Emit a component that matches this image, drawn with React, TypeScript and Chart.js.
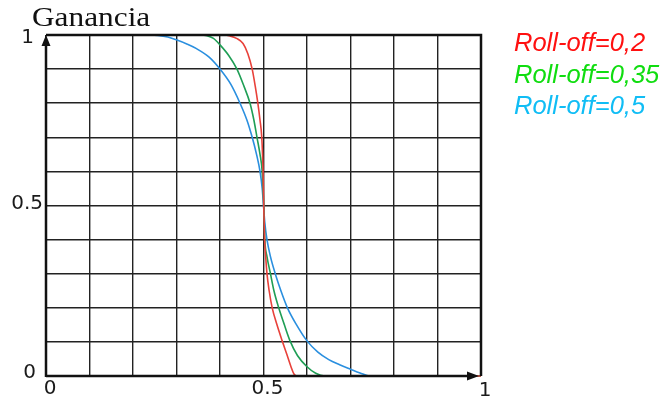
import React, { useEffect, useRef } from "react";
import { Chart, registerables } from "chart.js";

Chart.register(...registerables);

// ---- data ----
const seriesLabels = ["Roll-off=0,2", "Roll-off=0,35", "Roll-off=0,5"];

const redX = [0, 0.41, 0.423, 0.438, 0.453, 0.464, 0.474, 0.481, 0.487, 0.492, 0.496, 0.499, 0.5005, 0.5025, 0.505, 0.508, 0.513, 0.52, 0.531, 0.543, 0.554, 0.563, 0.57, 0.577, 1];
const redY = [1, 1, 0.997, 0.99, 0.975, 0.945, 0.9, 0.85, 0.8, 0.75, 0.7, 0.6, 0.5, 0.4, 0.35, 0.3, 0.25, 0.2, 0.15, 0.103, 0.062, 0.028, 0.006, 0, 0];

const greenX = [0, 0.355, 0.37, 0.385, 0.4, 0.42, 0.439, 0.455, 0.469, 0.478, 0.485, 0.492, 0.497, 0.499, 0.5005, 0.503, 0.508, 0.516, 0.524, 0.535, 0.548, 0.561, 0.578, 0.6, 0.62, 0.641, 1];
const greenY = [1, 1, 0.998, 0.99, 0.971, 0.94, 0.9, 0.85, 0.8, 0.75, 0.7, 0.65, 0.6, 0.55, 0.5, 0.4, 0.35, 0.3, 0.25, 0.2, 0.15, 0.103, 0.06, 0.027, 0.008, 0, 0];

const blueX = [0, 0.24, 0.257, 0.28, 0.301, 0.325, 0.346, 0.375, 0.4, 0.425, 0.446, 0.462, 0.474, 0.484, 0.492, 0.497, 0.5, 0.503, 0.508, 0.516, 0.527, 0.54, 0.555, 0.576, 0.6, 0.625, 0.65, 0.675, 0.7, 0.722, 0.745, 1];
const blueY = [1, 1, 0.999, 0.994, 0.985, 0.973, 0.96, 0.935, 0.9, 0.855, 0.8, 0.75, 0.7, 0.65, 0.6, 0.55, 0.5, 0.45, 0.4, 0.35, 0.3, 0.25, 0.2, 0.15, 0.103, 0.07, 0.048, 0.033, 0.02, 0.009, 0, 0];

const xTickValues = [0, 0.5, 1];
const xTickLabels = ["0", "0.5", "1"];
const yTickValues = [1, 0.5, 0];
const yTickLabels = ["1", "0.5", "0"];
const yAxisTitle = "Ganancia";

// ---- styles ----
const lineColors = ["#e8413a", "#1f9e55", "#2a8fdf"];
const legendColors = ["#ff1010", "#10dd10", "#10bdf5"];

const toPoints = (xs: number[], ys: number[]) => xs.map((x, i) => ({ x, y: ys[i] }));

const decorPlugin = {
  id: "decor",
  afterDraw(chart: any) {
    const { ctx, chartArea: a, scales } = chart;
    const xs = scales.x;
    const ys = scales.y;
    ctx.save();
    ctx.strokeStyle = "#111";
    ctx.fillStyle = "#111";
    ctx.lineWidth = 2.5;
    // top + right frame
    ctx.beginPath();
    ctx.moveTo(a.left, a.top);
    ctx.lineTo(a.right, a.top);
    ctx.lineTo(a.right, a.bottom);
    ctx.stroke();
    // y axis
    ctx.beginPath();
    ctx.moveTo(a.left, a.bottom + 1);
    ctx.lineTo(a.left, a.top + 8);
    ctx.stroke();
    // x axis
    ctx.beginPath();
    ctx.moveTo(a.left, a.bottom);
    ctx.lineTo(a.right - 10, a.bottom);
    ctx.stroke();
    // arrow heads
    ctx.beginPath();
    ctx.moveTo(a.left, a.top);
    ctx.lineTo(a.left - 4.5, a.top + 11);
    ctx.lineTo(a.left + 4.5, a.top + 11);
    ctx.closePath();
    ctx.fill();
    ctx.beginPath();
    ctx.moveTo(a.right - 2, a.bottom);
    ctx.lineTo(a.right - 14, a.bottom - 4.5);
    ctx.lineTo(a.right - 14, a.bottom + 4.5);
    ctx.closePath();
    ctx.fill();

    // tick labels
    ctx.fillStyle = "#1a1a1a";
    ctx.font = "20px 'DejaVu Sans'";
    ctx.textBaseline = "middle";
    const yOff = [
      [-12, 3],
      [-3, -2],
      [-10, -3],
    ];
    yTickValues.forEach((v, i) => {
      ctx.textAlign = "right";
      ctx.fillText(yTickLabels[i], a.left + yOff[i][0], ys.getPixelForValue(v) + yOff[i][1]);
    });
    xTickValues.forEach((v, i) => {
      ctx.textAlign = "center";
      ctx.fillText(xTickLabels[i], xs.getPixelForValue(v) + 4, a.bottom + 13 + (i === 2 ? 2 : 0));
    });

    // title
    ctx.save();
    ctx.font = "27px 'Liberation Serif'";
    ctx.textAlign = "left";
    ctx.textBaseline = "alphabetic";
    ctx.fillStyle = "#111";
    ctx.translate(a.left - 14, a.top - 9);
    ctx.scale(1.16, 1);
    ctx.fillText(yAxisTitle, 0, 0);
    ctx.restore();

    // legend
    ctx.font = "italic 25.5px 'Liberation Sans'";
    ctx.textAlign = "left";
    ctx.textBaseline = "alphabetic";
    seriesLabels.forEach((lab, i) => {
      ctx.fillStyle = legendColors[i];
      ctx.fillText(lab, a.right + 33, a.top + 16 + i * 31.5);
    });
    ctx.restore();
  },
};

export default function App() {
  const ref = useRef<HTMLCanvasElement | null>(null);
  useEffect(() => {
    if (!ref.current) return;
    const series = [
      toPoints(redX, redY),
      toPoints(greenX, greenY),
      toPoints(blueX, blueY),
    ];
    const chart = new Chart(ref.current, {
      type: "scatter",
      data: {
        datasets: series.map((d, i) => ({
          label: seriesLabels[i],
          data: d,
          showLine: true,
          borderColor: lineColors[i],
          backgroundColor: lineColors[i],
          borderWidth: 1.6,
          pointRadius: 0,
          pointHoverRadius: 0,
          cubicInterpolationMode: "monotone" as const,
          clip: false as any,
        })),
      },
      options: {
        animation: false,
        responsive: false,
        devicePixelRatio: 1,
        events: [],
        layout: { padding: { left: 46, right: 184, top: 35, bottom: 25 } },
        plugins: { legend: { display: false }, tooltip: { enabled: false }, title: { display: false } },
        scales: {
          x: {
            type: "linear",
            min: 0,
            max: 1,
            ticks: { stepSize: 0.1, display: false },
            grid: { color: "#222", lineWidth: 1.4, drawTicks: false },
            border: { display: false },
          },
          y: {
            type: "linear",
            min: 0,
            max: 1,
            ticks: { stepSize: 0.1, display: false },
            grid: { color: "#222", lineWidth: 1.4, drawTicks: false },
            border: { display: false },
          },
        },
      },
      plugins: [decorPlugin],
    });
    return () => chart.destroy();
  }, []);
  return (
    <div style={{ position: "absolute", left: 0, top: 0, width: 665, height: 401, background: "#fff" }}>
      <canvas ref={ref} width={665} height={401} style={{ width: 665, height: 401, display: "block" }} />
    </div>
  );
}
